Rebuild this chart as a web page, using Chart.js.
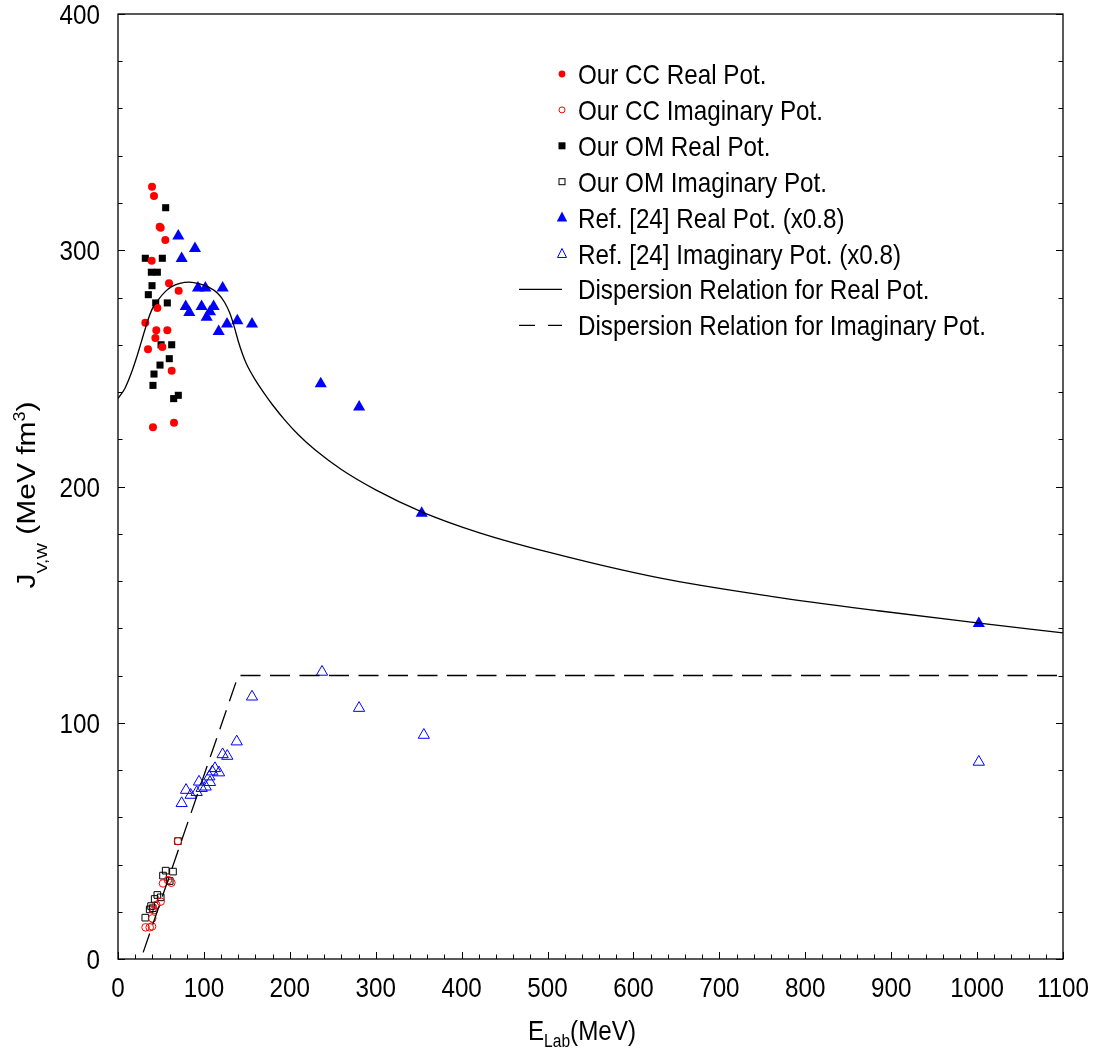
<!DOCTYPE html>
<html>
<head>
<meta charset="utf-8">
<script src="https://cdn.jsdelivr.net/npm/chart.js@4/dist/chart.umd.min.js"></script>
<style>
  html, body { margin: 0; padding: 0; background: #fff; }
  #c { display: block; }
</style>
</head>
<body>
<canvas id="c" width="1099" height="1053"></canvas>
<script>
// ---------- data ----------
const xTicks = [0, 100, 200, 300, 400, 500, 600, 700, 800, 900, 1000, 1100];
const yTicks = [0, 100, 200, 300, 400];

const ccRealE = [39.6, 41.9, 48.5, 49.7, 55.1, 39.2, 59.4, 70.6, 45.8, 31.8, 44.6, 57.4, 43.5, 51.6, 34.9, 62.5, 40.7, 65.2];
const ccRealJ = [326.9, 323.0, 310.0, 309.5, 304.3, 295.6, 286.0, 282.9, 275.6, 269.3, 266.1, 266.1, 262.9, 259.0, 258.1, 249.0, 225.1, 227.0];

const ccImagE = [69.8, 62.1, 52.4, 58.2, 49.7, 44.6, 41.9, 39.9, 32.1, 36.9, 39.6];
const ccImagJ = [49.9, 32.3, 32.0, 33.4, 24.3, 22.9, 20.7, 17.2, 13.4, 13.4, 13.8];

const omRealE = [55.5, 31.8, 51.6, 38.8, 45.8, 39.6, 35.3, 43.9, 57.4, 50.1, 62.5, 59.7, 48.9, 41.9, 40.7, 64.8, 70.2];
const omRealJ = [318.0, 296.6, 296.6, 290.7, 290.7, 285.0, 281.2, 277.7, 277.7, 260.0, 260.0, 254.1, 251.4, 247.6, 242.8, 237.2, 238.6];

const omImagE = [69.8, 55.5, 64.0, 52.4, 60.2, 45.8, 49.7, 42.7, 40.4, 36.9, 31.8, 38.5];
const omImagJ = [49.9, 37.4, 37.0, 35.3, 33.0, 27.1, 26.1, 25.4, 21.5, 21.0, 17.5, 22.4];

const refRealE = [70.2, 89.6, 74.1, 93.1, 101.7, 121.8, 78.8, 83.0, 97.3, 111.3, 107.1, 103.2, 126.9, 138.9, 156.0, 117.2, 236.0, 280.7, 353.5, 1002];
const refRealJ = [306.0, 300.7, 296.5, 284.0, 284.0, 284.0, 276.2, 273.7, 276.2, 276.2, 274.0, 271.6, 268.8, 270.2, 268.8, 265.6, 243.5, 233.7, 188.7, 142.0];

const refImagE = [156.0, 138.2, 121.8, 127.2, 112.9, 117.6, 109.8, 106.3, 107.1, 102.1, 94.3, 97.4, 79.2, 91.6, 84.6, 74.1, 237.5, 280.6, 356.0, 1002];
const refImagJ = [111.0, 92.0, 86.6, 85.9, 80.7, 78.9, 79.3, 77.2, 74.8, 72.9, 75.0, 72.3, 71.5, 70.6, 69.4, 65.9, 121.5, 106.2, 94.8, 83.4];

const dispRealE = [0, 8, 15.5, 22, 27.2, 34.9, 40, 46.6, 55, 62, 72, 83, 95, 105, 116, 124, 130, 135, 140, 145, 150, 160, 170, 180, 195, 210, 230, 260, 300, 353.5, 420, 500, 630, 760, 887, 1000, 1100];
const dispRealJ = [237.3, 241.5, 248, 255, 261.3, 270.5, 275.3, 278.9, 282.5, 284.5, 286, 286.5, 285.8, 284.5, 281.8, 278, 273.5, 268, 261.5, 256, 251.5, 245, 239.5, 234.5, 227.8, 221.9, 215.3, 207.2, 198.6, 189.3, 180.5, 172.3, 161.3, 153.5, 147.3, 142.3, 138];

const dispImagE = [29.3, 140, 1100];
const dispImagJ = [2.8, 120, 120];

const legendLabels = [
  'Our CC Real Pot.',
  'Our CC Imaginary Pot.',
  'Our OM Real Pot.',
  'Our OM Imaginary Pot.',
  'Ref. [24] Real Pot. (x0.8)',
  'Ref. [24] Imaginary Pot. (x0.8)',
  'Dispersion Relation for Real Pot.',
  'Dispersion Relation for Imaginary Pot.'
];

// ---------- helpers ----------
const FONT = '"Liberation Sans", Arial, Helvetica, sans-serif';
const SX = 0.865;      // horizontal condensation of the reference lettering
const FS = 28;         // main font size
function pts(xs, ys) { return xs.map((x, i) => ({ x: x, y: ys[i] })); }

const RED = '#ff0000', BLUE = '#0000ff', BLACK = '#000000';

function txt(ctx, s, x, y, size, align) {
  ctx.save();
  ctx.font = size + 'px ' + FONT;
  ctx.textAlign = align || 'left';
  ctx.textBaseline = 'alphabetic';
  ctx.translate(x, y);
  ctx.scale(SX, 1);
  ctx.fillText(s, 0, 0);
  ctx.restore();
}
function richWidth(ctx, parts, sx) {
  let w = 0;
  ctx.save();
  parts.forEach(p => { ctx.font = p[1] + 'px ' + FONT; w += ctx.measureText(p[0]).width * sx; });
  ctx.restore();
  return w;
}
function drawRich(ctx, parts, x, y, sx, sy) {
  let cx = x;
  parts.forEach(p => {
    ctx.save();
    ctx.font = p[1] + 'px ' + FONT;
    ctx.textAlign = 'left';
    ctx.textBaseline = 'alphabetic';
    ctx.translate(cx, y + p[2]);
    ctx.scale(sx, sy);
    ctx.fillText(p[0], 0, 0);
    cx += ctx.measureText(p[0]).width * sx;
    ctx.restore();
  });
}

const datasets = [
  { label: legendLabels[6], data: pts(dispRealE, dispRealJ), showLine: true, borderColor: BLACK, borderWidth: 1.3,
    pointRadius: 0, cubicInterpolationMode: 'monotone', order: 0 },
  { label: legendLabels[7], data: pts(dispImagE, dispImagJ), showLine: true, borderColor: BLACK, borderWidth: 1.3,
    borderDash: [20, 9.5], pointRadius: 0, tension: 0, order: 0 },
  { label: legendLabels[0], data: pts(ccRealE, ccRealJ), pointStyle: 'circle', pointRadius: 4,
    backgroundColor: RED, borderColor: RED, borderWidth: 0, order: 1 },
  { label: legendLabels[2], data: pts(omRealE, omRealJ), pointStyle: 'rect', pointRadius: 5,
    backgroundColor: BLACK, borderColor: BLACK, borderWidth: 0, order: 2 },
  { label: legendLabels[1], data: pts(ccImagE, ccImagJ), pointStyle: 'circle', pointRadius: 3.8,
    backgroundColor: 'rgba(0,0,0,0)', borderColor: RED, borderWidth: 1, order: 1 },
  { label: legendLabels[3], data: pts(omImagE, omImagJ), pointStyle: 'rect', pointRadius: 4.7,
    backgroundColor: 'rgba(0,0,0,0)', borderColor: BLACK, borderWidth: 1, order: 2 },
  { label: legendLabels[4], data: pts(refRealE, refRealJ), pointStyle: 'triangle', pointRadius: 7,
    backgroundColor: BLUE, borderColor: BLUE, borderWidth: 0, order: 3 },
  { label: legendLabels[5], data: pts(refImagE, refImagJ), pointStyle: 'triangle', pointRadius: 6.5,
    backgroundColor: 'rgba(0,0,0,0)', borderColor: BLUE, borderWidth: 1, order: 3 }
];

// frame + inward ticks + tick labels
const framePlugin = {
  id: 'frame',
  afterDatasetsDraw(chart) {
    const { ctx, chartArea: a, scales: { x, y } } = chart;
    ctx.save();
    ctx.strokeStyle = BLACK;
    ctx.lineWidth = 1.3;
    ctx.strokeRect(a.left, a.top, a.right - a.left, a.bottom - a.top);
    ctx.lineWidth = 1;
    ctx.beginPath();
    for (let v = 0; v <= 1100; v += 20) {
      const px = Math.round(x.getPixelForValue(v)) + 0.5;
      const len = v % 100 === 0 ? 7 : 4.5;
      ctx.moveTo(px, a.bottom); ctx.lineTo(px, a.bottom - len);
    }
    for (let v = 0; v <= 400; v += 20) {
      const py = Math.round(y.getPixelForValue(v)) + 0.5;
      const len = v % 100 === 0 ? 7 : 4.5;
      ctx.moveTo(a.left, py); ctx.lineTo(a.left + len, py);
      ctx.moveTo(a.right, py); ctx.lineTo(a.right - len, py);
    }
    ctx.stroke();
    ctx.fillStyle = BLACK;
    xTicks.forEach(v => txt(ctx, String(v), x.getPixelForValue(v), a.bottom + 38, FS, 'center'));
    yTicks.forEach(v => txt(ctx, String(v), a.left - 18, y.getPixelForValue(v) + 10.2, FS, 'right'));
    ctx.restore();
  }
};

// legend drawn inside plot
const legendPlugin = {
  id: 'innerLegend',
  afterDraw(chart) {
    const ctx = chart.ctx;
    const mx = 562, tx = 578, y0 = 74, dy = 35.9;
    ctx.save();
    legendLabels.forEach((t, i) => {
      const yy = y0 + i * dy;
      ctx.fillStyle = BLACK;
      txt(ctx, t, tx, yy + 10, FS, 'left');
      ctx.save();
      ctx.lineWidth = 1;
      if (i === 0) { ctx.fillStyle = RED; ctx.beginPath(); ctx.arc(mx, yy, 3.4, 0, Math.PI * 2); ctx.fill(); }
      if (i === 1) { ctx.strokeStyle = RED; ctx.beginPath(); ctx.arc(mx, yy, 3, 0, Math.PI * 2); ctx.stroke(); }
      if (i === 2) { ctx.fillStyle = BLACK; ctx.fillRect(mx - 3.5, yy - 3.5, 7, 7); }
      if (i === 3) { ctx.strokeStyle = BLACK; ctx.strokeRect(mx - 3, yy - 3, 6, 6); }
      if (i === 4) { ctx.fillStyle = BLUE; ctx.beginPath(); ctx.moveTo(mx, yy - 6); ctx.lineTo(mx + 5.2, yy + 4); ctx.lineTo(mx - 5.2, yy + 4); ctx.closePath(); ctx.fill(); }
      if (i === 5) { ctx.strokeStyle = BLUE; ctx.beginPath(); ctx.moveTo(mx, yy - 5); ctx.lineTo(mx + 4.5, yy + 4); ctx.lineTo(mx - 4.5, yy + 4); ctx.closePath(); ctx.stroke(); }
      if (i === 6) { ctx.strokeStyle = BLACK; ctx.lineWidth = 1.3; ctx.beginPath(); ctx.moveTo(519, yy); ctx.lineTo(562, yy); ctx.stroke(); }
      if (i === 7) { ctx.strokeStyle = BLACK; ctx.lineWidth = 1.3; ctx.beginPath(); ctx.moveTo(519, yy); ctx.lineTo(535, yy); ctx.moveTo(548, yy); ctx.lineTo(562, yy); ctx.stroke(); }
      ctx.restore();
    });
    ctx.restore();
  }
};

// axis titles with sub/superscripts
const titlePlugin = {
  id: 'axisTitles',
  afterDraw(chart) {
    const ctx = chart.ctx;
    ctx.save();
    ctx.fillStyle = BLACK;
    // x title (condensed horizontally like the reference)
    const xp = [['E', FS, 0], ['Lab', 18, 7], ['(MeV)', FS, 0]];
    const xw = richWidth(ctx, xp, SX);
    drawRich(ctx, xp, 582 - xw / 2, 1040, SX, 1);
    // y title (rotated; condensation acts across the text)
    const yp = [['J', 30, 0], ['V,W', 17, 13.5], [' (MeV fm', 30, 0], ['3', 18, -11], [')', 30, 0]];
    const yw = richWidth(ctx, yp, 1);
    ctx.translate(35, 495);
    ctx.rotate(-Math.PI / 2);
    ctx.scale(1, SX);
    drawRich(ctx, yp, -yw / 2, 0, 1, 1);
    ctx.restore();
  }
};

new Chart(document.getElementById('c').getContext('2d'), {
  type: 'scatter',
  data: { datasets: datasets },
  options: {
    responsive: false,
    animation: false,
    devicePixelRatio: 1,
    layout: { padding: { left: 0, right: 36, top: 14, bottom: 0 } },
    plugins: { legend: { display: false }, tooltip: { enabled: false }, title: { display: false } },
    scales: {
      x: {
        type: 'linear', min: 0, max: 1100,
        afterBuildTicks(s) { s.ticks = xTicks.map(v => ({ value: v })); },
        ticks: { display: false },
        grid: { display: false, drawTicks: false },
        border: { display: false },
        afterFit(s) { s.height = 94; s.paddingLeft = 0; s.paddingRight = 0; s.paddingTop = 0; s.paddingBottom = 0; }
      },
      y: {
        type: 'linear', min: 0, max: 400,
        afterBuildTicks(s) { s.ticks = yTicks.map(v => ({ value: v })); },
        ticks: { display: false },
        grid: { display: false, drawTicks: false },
        border: { display: false },
        afterFit(s) { s.width = 118; s.paddingLeft = 0; s.paddingRight = 0; s.paddingTop = 0; s.paddingBottom = 0; }
      }
    }
  },
  plugins: [framePlugin, legendPlugin, titlePlugin]
});
</script>
</body>
</html>
